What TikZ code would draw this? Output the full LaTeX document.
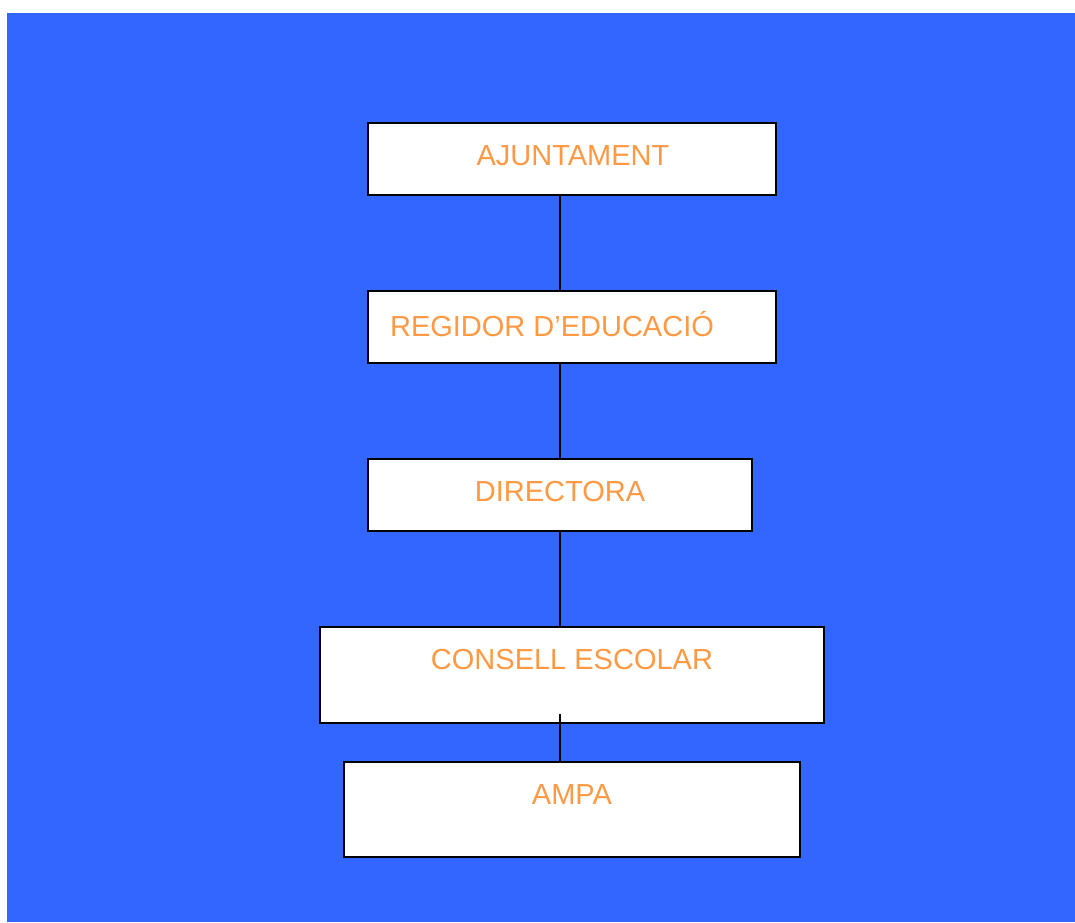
\documentclass[tikz,border=0pt]{standalone}
\usepackage{fontspec}
\setmainfont{Liberation Sans}
\definecolor{bg}{HTML}{3366FF}
\definecolor{txt}{HTML}{FF9944}
\begin{document}
\begin{tikzpicture}[x=1pt,y=-1pt,
  box/.style={draw=black, fill=white, line width=2pt, inner sep=0pt, anchor=north west},
  lbl/.style={text=txt, inner sep=0pt, font=\fontsize{29}{31}\selectfont},
  link/.style={draw=black, line width=2pt}]
\useasboundingbox (0,0) rectangle (1075,922);
\fill[bg] (7,13) rectangle (1075,922);
\coordinate (axis) at (560,0);
% boxes
\node[box, minimum width=408pt, minimum height=72pt] (aj) at (367,122) {};
\node[box, minimum width=408pt, minimum height=72pt] (reg) at (367,290) {};
\node[box, minimum width=384pt, minimum height=72pt] (dir) at (367,458) {};
\node[box, minimum width=504pt, minimum height=96pt] (cons) at (319,626) {};
\node[box, minimum width=456pt, minimum height=95pt] (ampa) at (343,761) {};
% labels
\node[lbl] (ajt) at (573,156) {AJUNTAMENT};
\node[lbl] (regt) at (552,324) {REGIDOR D’EDUCACIÓ};
\node[lbl] (dirt) at (560,492) {DIRECTORA};
\node[lbl] (const) at (572,660) {CONSELL ESCOLAR};
\node[lbl] (ampat) at (572,795) {AMPA};
% connectors
\draw[link] (aj.south -| axis) -- (reg.north -| axis);
\draw[link] (reg.south -| axis) -- (dir.north -| axis);
\draw[link] (dir.south -| axis) -- (cons.north -| axis);
\coordinate (stub) at (560,714);
\draw[link] (stub) -- (ampa.north -| axis);
\end{tikzpicture}
\end{document}
